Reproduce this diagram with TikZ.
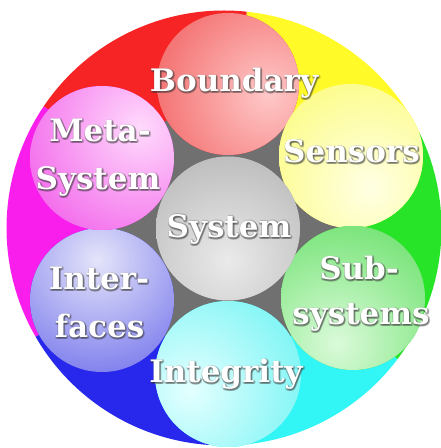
\documentclass[tikz,border=0pt]{standalone}
\usepackage{fontspec}
\setmainfont{DejaVu Serif}
\usetikzlibrary{calc}
\definecolor{regR}{RGB}{246,36,36}
\definecolor{regY}{RGB}{255,250,40}
\definecolor{regG}{RGB}{40,228,40}
\definecolor{regC}{RGB}{50,246,246}
\definecolor{regB}{RGB}{40,40,236}
\definecolor{regM}{RGB}{250,30,236}
\definecolor{regK}{RGB}{112,112,112}
\definecolor{sphR}{RGB}{236,48,48}\definecolor{sphRhi}{RGB}{255,200,200}
\definecolor{sphY}{RGB}{250,250,70}\definecolor{sphYhi}{RGB}{255,255,228}
\definecolor{sphG}{RGB}{58,214,58}\definecolor{sphGhi}{RGB}{218,250,218}
\definecolor{sphC}{RGB}{58,238,238}\definecolor{sphChi}{RGB}{228,255,255}
\definecolor{sphB}{RGB}{54,54,228}\definecolor{sphBhi}{RGB}{228,228,250}
\definecolor{sphM}{RGB}{236,40,226}\definecolor{sphMhi}{RGB}{255,218,252}
\definecolor{sphK}{RGB}{150,150,150}\definecolor{sphKhi}{RGB}{234,234,234}
\tikzset{
  ball/.style n args={3}{circle, inner sep=0pt, minimum size=#2pt, fill=#1,
    path picture={\shade[inner color=#1hi, outer color=#1]
      ($(path picture bounding box.center)+(#3)$) circle (200pt);}},
  lbl/.style={font=\bfseries\fontsize{31}{37}\selectfont, inner sep=0pt, anchor=base},
}
\newcommand\glowtxt[3]{%
  \foreach \ang in {0,45,...,315}{%
    \node[lbl, text=black!80, opacity=0.2, shift={(\ang:1.2pt)}, xshift=0.7pt, yshift=-0.7pt] at (#2) {#3};}
  \node[lbl, text=white] (#1) at (#2) {#3};}
\begin{document}
\begin{tikzpicture}[x=1pt,y=1pt]
\useasboundingbox (0,0) rectangle (441,448);
\fill[white] (0,0) rectangle (441,448);
\coordinate (dc) at (224,220);
% outer coloured disk
\foreach \col/\a/\b in {regY/26/84, regR/84/146, regM/146/210, regB/210/266, regC/266/323, regG/323/386}
  \fill[\col] (dc) -- ($(dc)+(\a:217.5)$) arc[start angle=\a, end angle=\b, radius=217.5] -- cycle;
% sphere positions
\coordinate (pbd) at (228,364);
\coordinate (pse) at (351,292);
\coordinate (psb) at (353,150);
\coordinate (pin) at (228,74);
\coordinate (pif) at (102,148);
\coordinate (pme) at (102,290);
% grey centre
\fill[regK] ($(pbd)!0.5!(pse)$) -- ($(pse)!0.5!(psb)$) -- ($(psb)!0.5!(pin)$) --
  ($(pin)!0.5!(pif)$) -- ($(pif)!0.5!(pme)$) -- ($(pme)!0.5!(pbd)$) -- cycle;
% spheres
\node[ball={sphR}{142}{40,-10}] (bd) at (pbd) {};
\node[ball={sphY}{144}{19,-31}] (se) at (pse) {};
\node[ball={sphG}{144}{-16,-45}] (sb) at (psb) {};
\node[ball={sphC}{146}{-38,-16}] (in) at (pin) {};
\node[ball={sphB}{144}{-5,40}] (if) at (pif) {};
\node[ball={sphM}{144}{38,30}] (me) at (pme) {};
\node[ball={sphK}{144}{0,-32}] (sy) at (228,219.5) {};
% labels
\glowtxt{tbd}{234,356}{Boundary}
\glowtxt{tse}{351.5,285}{Sensors}
\glowtxt{tme1}{100,306}{Meta-}
\glowtxt{tme2}{98,258}{System}
\glowtxt{tsy}{229,210.5}{System}
\glowtxt{tif1}{99,158}{Inter-}
\glowtxt{tif2}{99.5,110}{faces}
\glowtxt{tsb1}{359,168}{Sub-}
\glowtxt{tsb2}{361,123}{systems}
\glowtxt{tin}{226,65}{Integrity}
\end{tikzpicture}
\end{document}
